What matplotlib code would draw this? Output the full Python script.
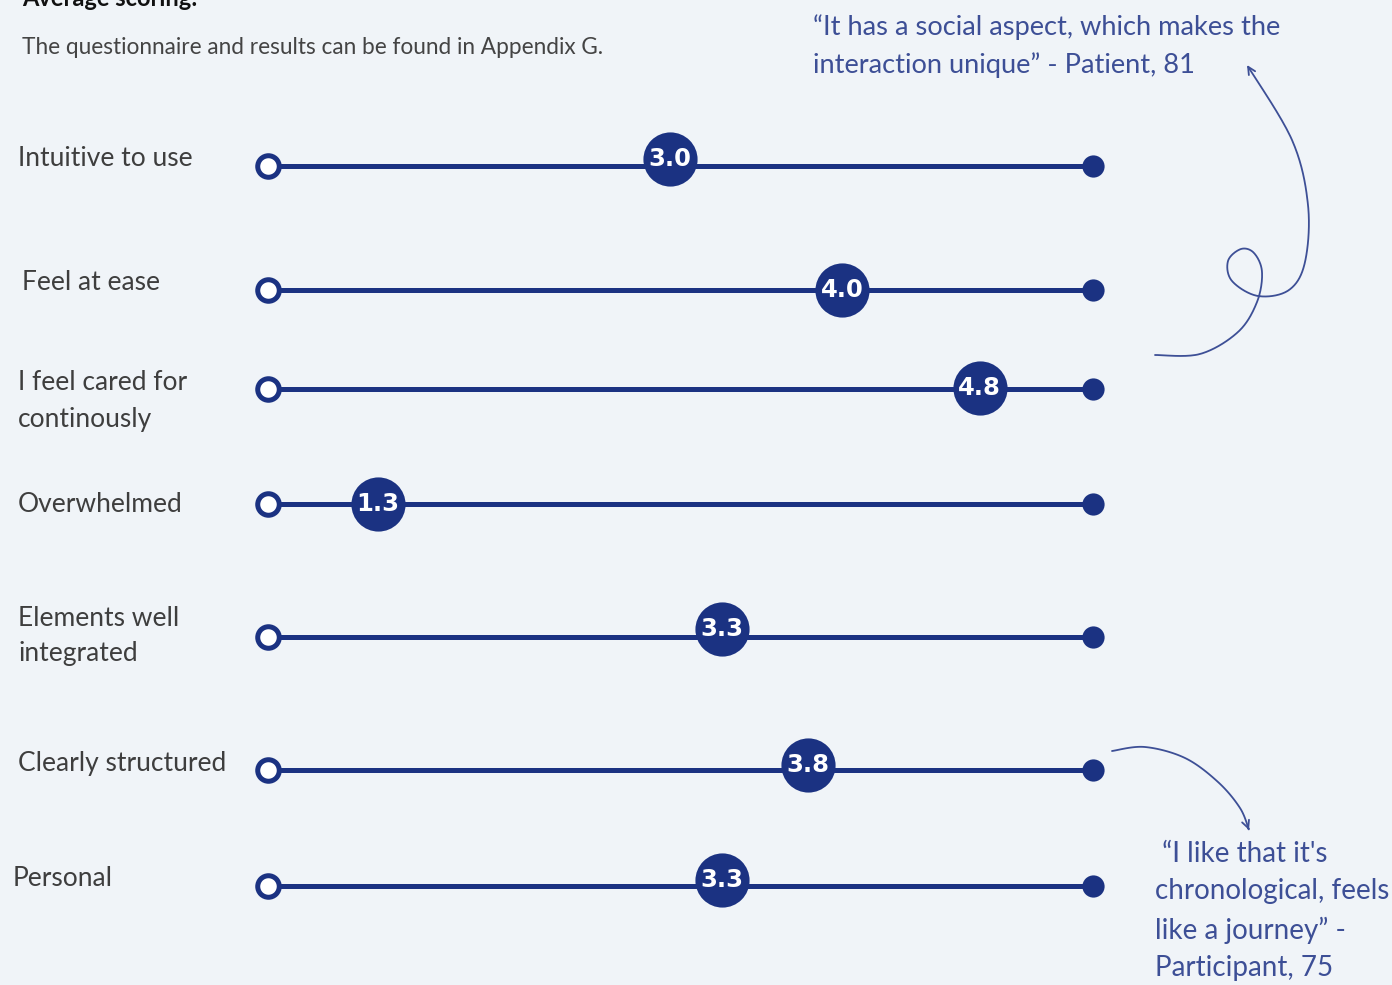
import numpy as np
import matplotlib
matplotlib.use("Agg")
import matplotlib.pyplot as plt
from matplotlib.path import Path
from matplotlib.patches import FancyArrowPatch

# ---- data ----
categories = [
    "Intuitive to use",
    "Feel at ease",
    "I feel cared for\ncontinously",
    "Overwhelmed",
    "Elements well\nintegrated",
    "Clearly structured",
    "Personal",
]
scores = [3.0, 4.0, 4.8, 1.3, 3.3, 3.8, 3.3]
title = "Average scoring:"
subtitle = "The questionnaire and results can be found in Appendix G."
quote_top = "\u201cIt has a social aspect, which makes the\ninteraction unique\u201d - Patient, 81"
quote_bottom = " \u201cI like that it's\nchronological, feels\nlike a journey\u201d -\nParticipant, 75"

# ---- layout (figure pixels, y downward) ----
W, H = 1392, 985
row_y = [166, 290, 389, 504, 637, 770, 886]
badge_lift = [7, 0, 1, 0, 8, 5, 6]
label_x = [18, 22, 18, 18, 18, 18, 13]
label_y = [158, 282, 401, 504, 636, 763, 879]

BG = "#f0f4f8"
NAVY = "#1b3282"
QUOTE = "#3d4f96"
LABEL = "#3e3e3e"

plt.rcParams["font.family"] = ["Lato", "DejaVu Sans"]

fig = plt.figure(figsize=(W / 100, H / 100), dpi=100, facecolor=BG)

# overlay axes in pixel coordinates for text and annotations
ov = fig.add_axes([0, 0, 1, 1])
ov.set_xlim(0, W)
ov.set_ylim(H, 0)
ov.axis("off")
ov.set_facecolor("none")

# slider axes: x in score units
ax = fig.add_axes([268 / W, 0, 825 / W, 1])
ax.set_xlim(0.66, 5.46)
ax.set_ylim(H, 0)
ax.axis("off")
ax.set_facecolor("none")

lo, hi = ax.get_xlim()
for y, lift, s in zip(row_y, badge_lift, scores):
    ax.plot([lo, hi], [y, y], color=NAVY, lw=3.6, solid_capstyle="butt",
            zorder=2, clip_on=False)
    ax.plot([lo], [y], marker="o", ms=15.5, mfc="white", mec=NAVY, mew=3.6,
            zorder=3, clip_on=False)
    ax.plot([hi], [y], marker="o", ms=16, mfc=NAVY, mec=NAVY, mew=0,
            zorder=3, clip_on=False)
    ax.plot([s], [y - lift], marker="o", ms=39, mfc=NAVY, mec=NAVY, mew=0,
            zorder=4, clip_on=False)
    ax.text(s, y - lift, f"{s:.1f}", color="white", ha="center", va="center",
            fontsize=17.5, fontweight="bold", family="DejaVu Sans", zorder=5)

# category labels
for x, y, lab in zip(label_x, label_y, categories):
    ov.text(x, y, lab, ha="left", va="center", fontsize=19, color=LABEL,
            fontweight="normal", linespacing=1.55)

# heading texts
ov.text(22, 6, title, ha="left", va="baseline", fontsize=17, fontweight="bold",
        color="#111111")
ov.text(22, 48, subtitle, ha="left", va="center", fontsize=16.3, color="#444444",
        fontweight="normal")

# quotes
ov.text(813, 46, quote_top, ha="left", va="center", fontsize=19.6, color=QUOTE,
        fontweight="normal", linespacing=1.58)
ov.text(1155, 911, quote_bottom, ha="left", va="center", fontsize=20, color=QUOTE,
        fontweight="normal", linespacing=1.55)


def smooth(pts, n=20):
    """Catmull-Rom curve through the given control points."""
    p = np.asarray(pts, float)
    p = np.vstack([p[0], p, p[-1]])
    out = []
    for i in range(1, len(p) - 2):
        p0, p1, p2, p3 = p[i - 1], p[i], p[i + 1], p[i + 2]
        for t in np.linspace(0, 1, n, endpoint=False):
            t2, t3 = t * t, t * t * t
            out.append(0.5 * ((2 * p1) + (-p0 + p2) * t
                              + (2 * p0 - 5 * p1 + 4 * p2 - p3) * t2
                              + (-p0 + 3 * p1 - 3 * p2 + p3) * t3))
    out.append(p[-2])
    return np.array(out)


loop_pts = [(1155, 355), (1200, 354), (1238, 332), (1257, 302), (1262, 272),
            (1254, 253), (1241, 249), (1228, 261), (1232, 281), (1258, 296),
            (1289, 290), (1305, 262), (1308, 205), (1292, 140), (1247, 65)]
swoop_pts = [(1112, 751), (1145, 747), (1185, 758), (1218, 782), (1240, 808),
             (1249, 830)]

for pts in (loop_pts, swoop_pts):
    curve = smooth(pts)
    codes = [Path.MOVETO] + [Path.LINETO] * (len(curve) - 1)
    arrow = FancyArrowPatch(path=Path(curve, codes),
                            arrowstyle="->,head_length=0.45,head_width=0.22",
                            color=QUOTE, lw=1.3, transform=ov.transData,
                            mutation_scale=12)
    ov.add_patch(arrow)

fig.savefig("out.png", dpi=100, facecolor=BG)
